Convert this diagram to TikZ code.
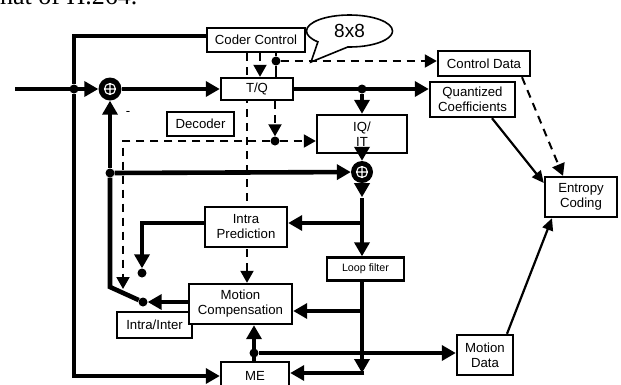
\documentclass[tikz,border=0pt]{standalone}
\usepackage{fontspec}
\setmainfont{Liberation Sans}
\newfontfamily\capfont{Liberation Serif}
\usetikzlibrary{arrows.meta,backgrounds,shapes.callouts}

\begin{document}
\begin{tikzpicture}[
    x=1pt, y=-1pt,
    box/.style={rectangle, draw=black, fill=white, line width=2.4pt, inner sep=0pt,
                align=center, font=\fontsize{13.2}{15}\selectfont},
    flow/.style={line width=4.6pt, -{Triangle[length=14pt,width=15pt]}},
    bus/.style={line width=4.6pt},
    ctrl/.style={line width=2pt, dash pattern=on 8pt off 6pt, -{Triangle[length=12pt,width=13pt]}},
    feed/.style={line width=2.2pt, -{Triangle[length=12pt,width=11pt]}},
    dot/.style={circle, fill=black, inner sep=0pt, minimum size=9pt},
    adder/.style={circle, fill=black, inner sep=0pt, minimum size=23pt,
        path picture={\draw[white, line width=1.1pt]
            (path picture bounding box.center) circle[radius=5.5pt]
            ([xshift=-5.5pt]path picture bounding box.center) -- ([xshift=5.5pt]path picture bounding box.center)
            ([yshift=-5.5pt]path picture bounding box.center) -- ([yshift=5.5pt]path picture bounding box.center);}}
]
\useasboundingbox (0,0) rectangle (621,384);

\node[anchor=base west, inner sep=0pt, font=\capfont\fontsize{26}{30}\selectfont] (cap) at (0,4.5) {hat of H.264.};

\node[box, minimum width=98pt, minimum height=24pt] (cc) at (256,40) {Coder Control};
\node[box, minimum width=72pt, minimum height=22pt] (tq) at (257,89) {T/Q};
\node[box, minimum width=67pt, minimum height=24pt] (dec) at (200.5,124) {Decoder};
\node[box, minimum width=90pt, minimum height=38pt] (iqit) at (362,134) {IQ/\\IT};
\node[box, minimum width=82pt, minimum height=40pt] (ip) at (246,227) {Intra\\Prediction};
\node[box, minimum width=77pt, minimum height=23pt, font=\fontsize{10.7}{12}\selectfont] (lf) at (365.5,269) {Loop filter};
\node[box, minimum width=75pt, minimum height=26pt] (ii) at (154.5,325) {Intra/Inter};
\node[box, minimum width=103pt, minimum height=40pt] (mc) at (240.5,304) {Motion\\Compensation};
\node[box, minimum width=68pt, minimum height=28pt] (me) at (255,376) {ME};
\node[box, minimum width=92pt, minimum height=25pt] (cd) at (484,63.5) {Control Data};
\node[box, minimum width=85pt, minimum height=35pt] (qc) at (472.5,99.5) {Quantized\\Coefficients};
\node[box, minimum width=72pt, minimum height=40pt] (ec) at (581,197) {Entropy\\Coding};
\node[box, minimum width=56pt, minimum height=40pt] (md) at (485,355) {Motion\\Data};

\node[ellipse callout, draw, fill=white, line width=1.6pt, minimum width=86pt, minimum height=32pt,
      callout absolute pointer={(311,62)}, callout pointer arc=45,
      font=\fontsize{19}{22}\selectfont] (blk) at (349.5,31) {8x8};

\node[adder] (sum1) at (110,89) {};
\node[adder, minimum size=22pt] (sum2) at (362,172) {};
\node[font=\fontsize{13.2}{15}\selectfont] (minus) at (128,113) {-};

\node[dot] (jin) at (74,89) {};
\node[dot] (jq) at (362,89) {};
\node[dot] (jcc) at (276,61) {};
\node[dot] (jdec) at (275,141) {};
\node[dot] (jpred) at (110,173) {};
\node[dot] (jme) at (254,353) {};
\node[dot] (jip) at (142,273) {};
\node[dot] (jsw) at (143,302) {};
\coordinate (src) at (15,89);
\coordinate (pivot) at (110,287);
\coordinate (swctl) at (123,289);
\coordinate (tapip) at (362,223);
\coordinate (tapmc) at (362,311);
\coordinate (lfend) at (362,373);

\begin{scope}[on background layer]
\draw[ctrl] (cc.south -| 247,0) -- (mc.north -| 247,0);
\end{scope}

\draw[flow] (src) -- (sum1);
\draw[flow] (sum1) -- (tq);
\draw[flow] (tq) -- (qc.west |- tq);
\draw[flow] (jq) -- (iqit);
\draw[bus] (jin) |- (cc.west |- 0,36);
\draw[flow] (jin) |- (me);
\draw[flow] (jpred) -- (sum1);
\draw[flow] (jpred) -- (sum2);
\draw[bus] (jpred) -- (pivot) -- (jsw);
\draw[flow] (iqit) -- (sum2);
\draw[flow] (sum2.south) -- ++(0,14);
\draw[flow] ([yshift=-15pt]sum2.south) -- (lf.north -| sum2);
\draw[flow] (lf.south -| lfend) -- (lfend);
\draw[flow] ([xshift=2.3pt]lfend) -- (lfend -| me.east);
\draw[flow] (tapip) -- (tapip -| ip.east);
\draw[flow] (tapmc) -- (tapmc -| mc.east);
\draw[flow] (ip.west |- tapip) -| (jip);
\draw[flow] (mc.west |- jsw) -- (jsw);
\draw[flow] (jme |- me.north) -- (jme |- mc.south);
\draw[flow] (jme) -- (jme -| md.west);

\draw[ctrl] (cc.south -| 260,0) -- (tq.north -| 260,0);
\draw[line width=2pt] (cc.south -| jcc) -- (jcc) -- (tq.north -| jcc);
\draw[ctrl] (jcc) -- (jcc -| cd.west);
\draw[ctrl] (tq.south -| jdec) -- (jdec);
\draw[ctrl] (jdec) -- (jdec -| iqit.west);
\draw[ctrl] (jdec) -| (swctl);
\draw[ctrl] (cd.south -| 522,0) -- (ec.north -| 563,0);

\draw[feed] (qc.south -| 492,0) -- (ec.west |- 0,183);
\draw[feed] (md.north -| 507,0) -- (ec.south -| 552,0);

\end{tikzpicture}
\end{document}
